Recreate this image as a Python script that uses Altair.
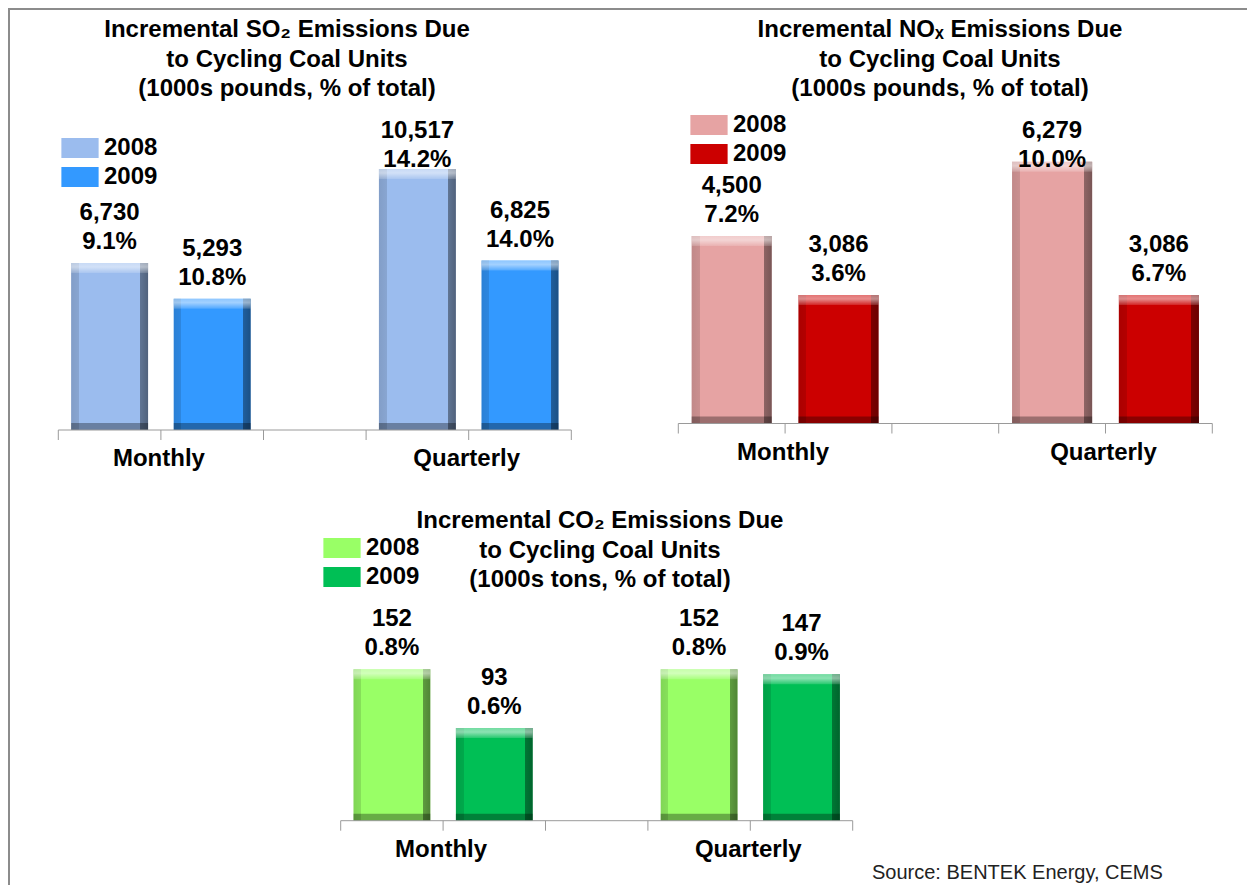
import altair as alt
import pandas as pd

# ---------------- data ----------------
categories = ["Monthly", "Quarterly"]
years = ["2008", "2009"]

# order: Monthly-2008, Monthly-2009, Quarterly-2008, Quarterly-2009
so2_values = [6730, 5293, 10517, 6825]
so2_pct = [9.1, 10.8, 14.2, 14.0]
nox_values = [4500, 3086, 6279, 3086]
nox_pct = [7.2, 3.6, 10.0, 6.7]
co2_values = [152, 93, 152, 147]
co2_pct = [0.8, 0.6, 0.8, 0.9]

so2_title = ["Incremental SO\u2082 Emissions Due", "to Cycling Coal Units", "(1000s pounds,  % of total)"]
nox_title = ["Incremental NO\u2093 Emissions Due", "to Cycling Coal Units", "(1000s pounds,  % of total)"]
co2_title = ["Incremental CO\u2082 Emissions Due", "to Cycling Coal Units", "(1000s tons, % of total)"]
source_text = "Source: BENTEK Energy, CEMS"

so2_colors = ["#9BBCEE", "#3399FF"]
nox_colors = ["#E6A3A3", "#CC0000"]
co2_colors = ["#99FF66", "#00BF55"]

FONT = "Liberation Sans, Arial, sans-serif"
W, H = 1239, 877


def make_df(values, pct):
    rows = []
    for gi, cat in enumerate(categories):
        for yi, yr in enumerate(years):
            k = gi * 2 + yi
            rows.append({"category": cat, "year": yr, "gi": gi, "yi": yi,
                         "value": values[k], "pct": pct[k]})
    return pd.DataFrame(rows)


one = pd.DataFrame({"a": [0]})

edge_grad = alt.LinearGradient(
    gradient="linear", x1=0, y1=0, x2=1, y2=0,
    stops=[
        alt.GradientStop(offset=0, color="rgba(0,0,0,0.16)"),
        alt.GradientStop(offset=0.1, color="rgba(0,0,0,0.12)"),
        alt.GradientStop(offset=0.1, color="rgba(0,0,0,0)"),
        alt.GradientStop(offset=0.9, color="rgba(0,0,0,0)"),
        alt.GradientStop(offset=0.9, color="rgba(0,0,0,0.38)"),
        alt.GradientStop(offset=1, color="rgba(0,0,0,0.48)"),
    ],
)
top_grad = alt.LinearGradient(
    gradient="linear", x1=0, y1=0, x2=0, y2=1,
    stops=[
        alt.GradientStop(offset=0, color="rgba(255,255,255,0.45)"),
        alt.GradientStop(offset=0.4, color="rgba(255,255,255,0.55)"),
        alt.GradientStop(offset=1, color="rgba(255,255,255,0.15)"),
    ],
)


def panel(values, pct, colors, xr, base, ymax, px_per, cap, lx, ly):
    df = make_df(values, pct)
    top = base - ymax * px_per
    xs = alt.Scale(domain=[0, 5], range=list(xr), nice=False, zero=False)
    ys = alt.Scale(domain=[0, ymax], range=[base, top], nice=False, zero=True)
    b = alt.Chart(df).transform_calculate(
        slot="datum.gi * 3 + datum.yi",
    ).transform_calculate(
        x0="datum.slot + 0.125",
        x1="datum.slot + 0.875",
        xc="datum.slot + 0.5",
        ly=f"min(datum.value, {cap})",
        plabel="format(datum.pct, '.1f') + '%'",
    )
    bars = b.mark_rect().encode(
        x=alt.X("x0:Q", scale=xs, axis=None),
        x2="x1",
        y=alt.Y("value:Q", scale=ys, axis=None),
        y2=alt.datum(0),
        color=alt.Color(
            "year:N",
            scale=alt.Scale(domain=years, range=colors),
            legend=alt.Legend(
                orient="none", legendX=lx, legendY=ly, title=None,
                direction="vertical",
                symbolType="M-1.33,-0.72H1.33V0.72H-1.33Z", symbolSize=784,
                symbolStrokeWidth=0, symbolOpacity=1,
                labelFont=FONT, labelFontSize=24, labelFontWeight="bold",
                labelColor="#000000", labelOffset=10, rowPadding=3,
            ),
        ),
    )
    edges = b.mark_rect(fill=edge_grad).encode(
        x="x0:Q", x2="x1", y="value:Q", y2=alt.datum(0))
    tops = b.mark_rect(fill=top_grad, y2Offset=10).encode(
        x="x0:Q", x2="x1", y="value:Q", y2="value")
    bottoms = b.mark_rect(fill="rgba(0,0,0,0.32)", yOffset=-7).encode(
        x="x0:Q", x2="x1", y=alt.datum(0), y2=alt.datum(0))
    axis_line = alt.Chart(one).mark_rule(color="#9a9a9a", strokeWidth=1).encode(
        x=alt.datum(0), x2=alt.datum(5), y=alt.datum(0))
    ticks = alt.Chart(pd.DataFrame({"t": list(range(6))})).mark_rule(
        color="#9a9a9a", strokeWidth=1, y2Offset=10).encode(
        x="t:Q", y=alt.datum(0), y2=alt.datum(0))
    vlab = b.mark_text(font=FONT, fontSize=24, fontWeight="bold", color="#000000",
                       baseline="middle", dy=-50).encode(
        x="xc:Q", y="ly:Q", text=alt.Text("value:Q", format=","))
    plab = b.mark_text(font=FONT, fontSize=24, fontWeight="bold", color="#000000",
                       baseline="middle", dy=-21).encode(
        x="xc:Q", y="ly:Q", text="plabel:N")
    cats = alt.Chart(pd.DataFrame({"category": categories, "gi": [0, 1]})).transform_calculate(
        pos="datum.gi * 3 + 1").mark_text(
        font=FONT, fontSize=24, fontWeight="bold", color="#000000",
        baseline="middle", dy=29, dx=-2).encode(
        x="pos:Q", y=alt.datum(0), text="category:N")
    return alt.layer(bars, edges, tops, bottoms, axis_line, ticks, vlab, plab, cats)


so2 = panel(so2_values, so2_pct, so2_colors, (50.3, 563.3), 422, 12000, 0.02482, 10040, 58, 126)
nox = panel(nox_values, nox_pct, nox_colors, (670.3, 1204.3), 415.5, 7000, 0.04167, 5820, 687, 103)
co2 = panel(co2_values, co2_pct, co2_colors, (332.7, 844.7), 812.7, 200, 0.996, 100000, 320, 526)


def title(lines, x, y):
    return alt.Chart(one).mark_text(
        font=FONT, fontSize=24, fontWeight="bold", color="#000000",
        lineHeight=29.5, baseline="middle", align="center").encode(
        x=alt.value(x), y=alt.value(y), text=alt.value(lines))


t1 = title(so2_title, 279, 22)
t2 = title(nox_title, 932, 22)
t3 = title(co2_title, 592, 513)

src = alt.Chart(one).mark_text(
    font=FONT, fontSize=20, color="#222222", align="left", baseline="middle").encode(
    x=alt.value(864), y=alt.value(865), text=alt.value(source_text))

border_left = alt.Chart(one).mark_rule(color="#8c8c8c", strokeWidth=2).encode(
    x=alt.value(1), y=alt.value(0), y2=alt.value(H))
border_top = alt.Chart(one).mark_rule(color="#8c8c8c", strokeWidth=2).encode(
    x=alt.value(0), x2=alt.value(W), y=alt.value(1))

chart = alt.layer(so2, nox, co2, t1, t2, t3, src, border_left, border_top).resolve_scale(
    x="independent", y="independent", color="independent"
).properties(
    width=W, height=H, autosize=alt.AutoSizeParams(type="none"), padding=0
).configure_view(strokeWidth=0).configure(background="white")

chart.save("out.html", embed_options={"renderer": "svg", "actions": False})
